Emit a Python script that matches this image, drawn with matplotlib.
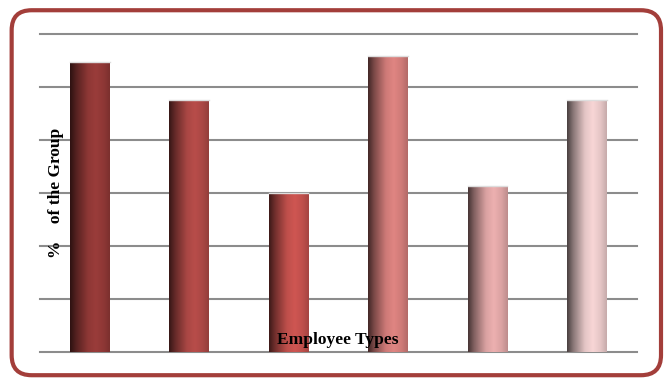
import numpy as np
import matplotlib
matplotlib.use("Agg")
import matplotlib.pyplot as plt
from matplotlib.colors import to_rgb
from matplotlib.patches import FancyBboxPatch

# data (percent of the group)
categories = ["Type 1", "Type 2", "Type 3", "Type 4", "Type 5", "Type 6"]
values = [27.4, 23.8, 15.0, 27.9, 15.7, 23.8]
bar_colors = ["#9a3c3a", "#b84d4a", "#cf5652", "#e08582", "#edb0b0", "#f8d6d6"]

fig = plt.figure(figsize=(6.66, 3.79), dpi=100)
ax = fig.add_axes([0.060, 0.0712, 0.896, 0.839])

x = np.arange(len(categories))
bars = ax.bar(x, values, width=0.4, color="none", edgecolor="none", zorder=3)

# cylinder-like horizontal shading
t = np.linspace(0, 1, 64)
shade = np.interp(t, [0, 0.15, 0.45, 0.65, 0.85, 1.0], [0.30, 0.55, 0.92, 1.0, 0.92, 0.80])
for b, c in zip(bars, bar_colors):
    rgb = np.array(to_rgb(c))
    grad = np.clip(rgb[None, :] * shade[:, None], 0, 1)
    img = grad[None, :, :]
    x0, w, h = b.get_x(), b.get_width(), b.get_height()
    im = ax.imshow(img, extent=[x0, x0 + w, 0, h], aspect="auto",
                   interpolation="bicubic", zorder=3)
    im.set_clip_path(b)
    ax.plot([x0, x0 + w], [h, h], color="#dddddd", lw=1, zorder=4)

ax.set_xlim(-0.5, 5.5)
ax.set_ylim(0, 30)
ax.set_yticks(np.arange(0, 31, 5))
ax.set_xticks([])
ax.tick_params(left=False, labelleft=False)
ax.grid(axis="y", color="#8c8c8c", lw=1.5, zorder=1)
for gl in ax.get_ygridlines():
    gl.set_clip_on(False)
for s in ax.spines.values():
    s.set_visible(False)

fig.text(0.507, 0.102, "Employee Types", ha="center", va="center",
         family="Liberation Serif", weight="bold", fontsize=12.5, zorder=5)
fig.text(0.084, 0.49, "%    of the Group", ha="center", va="center", rotation=90,
         family="Liberation Serif", weight="bold", fontsize=12.5)

border = FancyBboxPatch((0.0175, 0.010), 0.975, 0.963, boxstyle="round,pad=0,rounding_size=0.03",
                        transform=fig.transFigure, fill=False, edgecolor="#a33e3a",
                        lw=3, mutation_aspect=666 / 379)
fig.patches.append(border)

fig.savefig("out.png", dpi=100)
